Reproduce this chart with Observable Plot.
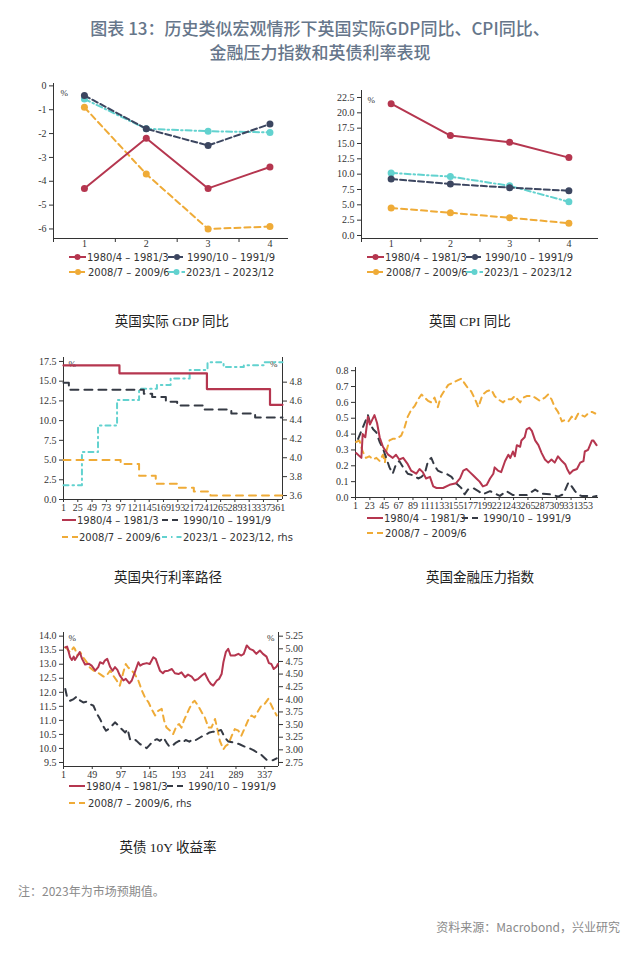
<!DOCTYPE html>
<html>
<head>
<meta charset="utf-8">
<script src="https://cdn.jsdelivr.net/npm/d3@7"></script>
<script src="https://cdn.jsdelivr.net/npm/@observablehq/plot@0.6"></script>
<style>
html,body{margin:0;padding:0;background:#fff;}
#root{position:relative;width:640px;height:962px;overflow:hidden;background:#fff;}
.title{position:absolute;left:0;top:16px;width:640px;text-align:center;font-family:"Noto Sans CJK SC",sans-serif;font-size:17px;font-weight:500;color:#66768a;line-height:24px;}
.legend{position:absolute;font-family:"DejaVu Sans",sans-serif;font-size:10px;color:#333;white-space:nowrap;}
.legend .item{position:absolute;display:flex;align-items:center;height:14px;}
.caption{position:absolute;width:240px;text-align:center;font-family:"Liberation Serif","Noto Sans CJK SC",serif;font-size:13.5px;color:#222;line-height:18px;}
.note{position:absolute;font-family:"Noto Sans CJK SC",sans-serif;font-size:12px;color:#8a8a8a;line-height:16px;white-space:nowrap;}
</style>
</head>
<body>
<div id="root"></div>
<script>
// ================= DATA =================
const seriesLabels = ["1980/4 – 1981/3", "1990/10 – 1991/9", "2008/7 – 2009/6", "2023/1 – 2023/12"];
const seriesColors = ["#b5364f", "#3c4660", "#efab37", "#62d2cf"];

// Panel 1: real GDP yoy
const quarters = [1, 2, 3, 4];
const quarterTickMarks = [0.5, 1.5, 2.5, 3.5];
const gdp1980 = [-4.3, -2.2, -4.3, -3.4];
const gdp1990 = [-0.4, -1.8, -2.5, -1.6];
const gdp2008 = [-0.9, -3.7, -6.0, -5.9];
const gdp2023 = [-0.55, -1.8, -1.9, -1.95];
const gdpTicks = [0, -1, -2, -3, -4, -5, -6];

// Panel 2: CPI yoy
const cpi1980 = [21.5, 16.3, 15.2, 12.7];
const cpi1990 = [9.2, 8.4, 7.8, 7.3];
const cpi2008 = [4.5, 3.7, 2.9, 2.0];
const cpi2023 = [10.2, 9.6, 8.1, 5.5];
const cpiTicks = [0, 2.5, 5, 7.5, 10, 12.5, 15, 17.5, 20, 22.5];

// Panel 3: Bank rate path (step)
const rateDays1980 = [1, 95, 242, 348, 369];
const rate1980 = [17, 16, 14, 12, 12];
const rateDays1990 = [1, 10, 136, 150, 173, 192, 236, 283, 323, 369];
const rate1990 = [14.8, 13.9, 13.4, 13.0, 12.4, 11.9, 11.4, 10.9, 10.4, 10.4];
const rateDays2008 = [1, 97, 128, 156, 192, 220, 248, 369];
const rate2008 = [5.0, 4.5, 3.0, 2.0, 1.5, 1.0, 0.5, 0.5];
const rateDays2023 = [1, 32, 59, 91, 128, 158, 181, 213, 243, 270, 304, 338, 369];
const rate2023 = [3.71, 4.06, 4.34, 4.61, 4.73, 4.77, 4.84, 4.93, 5.01, 4.96, 4.98, 5.01, 5.01];
const rateDayTicks = [1, 25, 49, 73, 97, 121, 145, 169, 193, 217, 241, 265, 289, 313, 337, 361];
const rateLeftTicks = [0, 2.5, 5, 7.5, 10, 12.5, 15, 17.5];
const rateRightTicks = [3.6, 3.8, 4.0, 4.2, 4.4, 4.6, 4.8];

// Panel 4: financial stress index
const fsiDays1980 = [2, 10, 12, 16, 20, 23, 30, 34, 38, 43, 51, 58, 63, 68, 74, 81, 86, 94, 99, 104, 109, 115, 120, 125, 135, 145, 155, 161, 166, 171, 176, 181, 186, 191, 196, 202, 207, 212, 214, 219, 224, 230, 235, 238, 242, 245, 248, 253, 255, 260, 263, 267, 271, 276, 281, 286, 291, 296, 301, 306, 311, 317, 322, 325, 329, 334, 340, 345, 350, 352, 357, 363, 365, 370];
const fsi1980 = [0.28, 0.25, 0.40, 0.38, 0.51, 0.46, 0.52, 0.47, 0.38, 0.32, 0.27, 0.25, 0.27, 0.24, 0.25, 0.21, 0.17, 0.15, 0.18, 0.16, 0.12, 0.13, 0.07, 0.06, 0.06, 0.08, 0.09, 0.12, 0.17, 0.18, 0.16, 0.14, 0.12, 0.10, 0.07, 0.08, 0.12, 0.15, 0.19, 0.17, 0.16, 0.23, 0.27, 0.25, 0.29, 0.26, 0.33, 0.32, 0.36, 0.38, 0.43, 0.44, 0.42, 0.36, 0.33, 0.28, 0.24, 0.22, 0.24, 0.22, 0.26, 0.23, 0.21, 0.18, 0.15, 0.17, 0.18, 0.22, 0.23, 0.29, 0.30, 0.36, 0.36, 0.33];
const fsiDays1990 = [5, 12, 20, 24, 28, 33, 38, 43, 48, 53, 58, 63, 68, 74, 81, 89, 97, 102, 107, 112, 117, 122, 127, 132, 140, 148, 155, 163, 168, 173, 181, 189, 196, 207, 222, 232, 242, 253, 263, 276, 286, 299, 311, 319, 327, 332, 337, 342, 347, 355, 363, 370];
const fsi1990 = [0.37, 0.44, 0.52, 0.46, 0.43, 0.41, 0.35, 0.31, 0.25, 0.19, 0.15, 0.21, 0.23, 0.19, 0.15, 0.14, 0.12, 0.13, 0.15, 0.23, 0.25, 0.20, 0.17, 0.16, 0.15, 0.13, 0.09, 0.06, 0.02, 0.05, 0.06, 0.04, 0.02, 0.04, 0.01, 0.04, 0.015, 0.015, 0.015, 0.05, 0.025, 0.02, 0.006, 0.02, 0.095, 0.07, 0.04, 0.017, 0.01, 0.01, 0.004, 0.01];
const fsiDays2008 = [2, 7, 12, 17, 22, 28, 33, 38, 43, 46, 48, 53, 58, 63, 71, 76, 81, 86, 92, 97, 102, 107, 112, 117, 122, 127, 132, 138, 143, 148, 153, 158, 163, 168, 173, 178, 184, 189, 194, 196, 202, 209, 214, 219, 227, 232, 240, 245, 253, 258, 263, 271, 276, 283, 291, 296, 301, 306, 311, 317, 322, 327, 332, 337, 342, 347, 352, 357, 363, 368];
const fsi2008 = [0.35, 0.36, 0.29, 0.25, 0.26, 0.24, 0.25, 0.23, 0.27, 0.22, 0.29, 0.36, 0.37, 0.37, 0.39, 0.44, 0.51, 0.55, 0.58, 0.62, 0.65, 0.63, 0.61, 0.60, 0.63, 0.57, 0.64, 0.68, 0.71, 0.72, 0.73, 0.74, 0.75, 0.72, 0.69, 0.67, 0.62, 0.57, 0.63, 0.65, 0.67, 0.68, 0.64, 0.62, 0.60, 0.62, 0.62, 0.64, 0.60, 0.63, 0.64, 0.64, 0.63, 0.61, 0.63, 0.65, 0.62, 0.57, 0.54, 0.48, 0.49, 0.48, 0.51, 0.49, 0.53, 0.52, 0.51, 0.53, 0.54, 0.53];
const fsiDayTicks = [1, 23, 45, 67, 89, 111, 133, 155, 177, 199, 221, 243, 265, 287, 309, 331, 353];
const fsiTicks = [0, 0.1, 0.2, 0.3, 0.4, 0.5, 0.6, 0.7, 0.8];

// Panel 5: 10Y gilt yield
const giltDays1980 = [4, 7, 9, 12, 15, 18, 20, 23, 28, 32, 37, 43, 48, 54, 59, 62, 67, 70, 74, 79, 83, 87, 91, 95, 101, 105, 111, 115, 120, 126, 129, 134, 140, 145, 151, 155, 159, 162, 167, 170, 176, 182, 187, 193, 198, 204, 209, 215, 220, 226, 232, 237, 243, 247, 251, 257, 261, 265, 268, 272, 276, 280, 287, 293, 298, 302, 307, 312, 318, 323, 329, 334, 340, 344, 348, 352, 357, 359];
const gilt1980 = [13.6, 13.63, 13.49, 13.25, 13.15, 13.27, 13.15, 13.25, 13.43, 13.19, 12.99, 13.02, 12.95, 12.77, 12.9, 13.07, 13.02, 13.13, 13.19, 12.9, 12.77, 12.9, 12.8, 12.6, 12.42, 12.48, 12.32, 12.42, 12.71, 13.07, 12.95, 13.01, 13.04, 13.01, 13.25, 13.19, 12.95, 12.77, 12.68, 12.75, 12.77, 12.83, 12.68, 12.65, 12.71, 12.54, 12.63, 12.56, 12.42, 12.48, 12.6, 12.68, 12.42, 12.3, 12.24, 12.42, 12.48, 12.65, 13.07, 13.43, 13.55, 13.31, 13.31, 13.37, 13.31, 13.37, 13.67, 13.55, 13.49, 13.37, 13.49, 13.37, 13.27, 13.04, 13.01, 12.83, 12.92, 13.01];
const giltDays1990 = [4, 7, 12, 18, 23, 29, 34, 40, 45, 51, 57, 62, 68, 72, 76, 82, 87, 93, 98, 104, 108, 112, 118, 123, 129, 134, 140, 145, 151, 157, 162, 168, 173, 178, 183, 189, 194, 200, 205, 211, 217, 222, 229, 234, 240, 245, 251, 257, 260, 264, 270, 276, 287, 295, 304, 312, 318, 324, 330, 336, 340, 345, 351, 357];
const gilt1990 = [12.12, 11.82, 11.7, 11.76, 11.85, 11.7, 11.64, 11.67, 11.58, 11.52, 11.23, 11.05, 10.77, 10.63, 10.69, 10.81, 10.93, 10.81, 10.69, 10.57, 10.69, 10.33, 10.36, 10.27, 10.15, 10.1, 10.01, 10.13, 10.27, 10.33, 10.27, 10.39, 10.21, 10.06, 10.1, 10.21, 10.27, 10.21, 10.3, 10.24, 10.33, 10.3, 10.39, 10.45, 10.51, 10.57, 10.6, 10.57, 10.63, 10.66, 10.4, 10.25, 10.2, 10.15, 10.06, 10.0, 9.94, 9.86, 9.8, 9.68, 9.6, 9.6, 9.58, 9.65];
const giltDays2008 = [4, 7, 12, 18, 20, 24, 29, 34, 40, 45, 51, 57, 62, 68, 73, 79, 84, 90, 95, 98, 101, 105, 109, 115, 120, 126, 132, 137, 143, 148, 154, 159, 165, 169, 173, 179, 184, 190, 194, 198, 202, 207, 212, 217, 220, 226, 232, 237, 243, 248, 254, 258, 262, 268, 272, 276, 282, 287, 293, 298, 304, 309, 315, 320, 326, 331, 337, 343, 347, 351, 357];
const gilt2008 = [5.03, 5.0, 4.93, 5.03, 5.0, 4.87, 4.93, 4.83, 4.73, 4.63, 4.57, 4.54, 4.5, 4.45, 4.47, 4.57, 4.47, 4.37, 4.27, 4.4, 4.54, 4.7, 4.63, 4.57, 4.5, 4.37, 4.17, 4.04, 3.94, 3.81, 3.68, 3.77, 3.81, 3.58, 3.44, 3.38, 3.31, 3.48, 3.51, 3.44, 3.58, 3.71, 3.84, 3.94, 3.97, 3.87, 3.74, 3.64, 3.44, 3.44, 3.61, 3.41, 3.18, 3.01, 3.08, 3.11, 3.28, 3.41, 3.38, 3.28, 3.44, 3.58, 3.68, 3.64, 3.77, 3.87, 3.91, 4.01, 3.91, 3.81, 3.68];
const giltDayTicks = [1, 49, 97, 145, 193, 241, 289, 337];
const giltLeftTicks = [9.5, 10.0, 10.5, 11.0, 11.5, 12.0, 12.5, 13.0, 13.5, 14.0];
const giltRightTicks = [2.75, 3.0, 3.25, 3.5, 3.75, 4.0, 4.25, 4.5, 4.75, 5.0, 5.25];

// ================= HELPERS =================
const root = document.getElementById("root");
function place(el, left, top) {
  el.style.position = "absolute";
  el.style.left = left + "px";
  el.style.top = top + "px";
  root.appendChild(el);
  return el;
}
const baseStyle = {fontFamily: '"Liberation Serif", serif', fontSize: "10px", color: "#333", background: "transparent", overflow: "visible"};
const rows = (xs, vs) => xs.map((x, i) => ({x, v: vs[i]}));

function legend(left, top, rowH, colW, items, withDot) {
  const box = document.createElement("div");
  box.className = "legend";
  items.forEach((row, ri) => row.forEach((it, ci) => {
    const d = document.createElement("div");
    d.className = "item";
    d.style.left = (ci * colW) + "px";
    d.style.top = (ri * rowH) + "px";
    const sw = it.sw || 17;
    d.innerHTML = `<svg width="${sw}" height="10" style="overflow:visible"><line x1="0" y1="5" x2="${sw}" y2="5" stroke="${it.color}" stroke-width="2" stroke-dasharray="${it.dash || ""}"/>` +
      (withDot ? `<circle cx="${sw / 2}" cy="5" r="3" fill="${it.color}"/>` : "") +
      `</svg><span style="margin-left:1px">${it.label}</span>`;
    box.appendChild(d);
  }));
  place(box, left, top);
}
function caption(text, cx, cy) {
  const d = document.createElement("div");
  d.className = "caption";
  d.textContent = text;
  place(d, cx - 120, cy - 9);
}

const dashNavy = "6,3";
const dashOrange = "6,4";
const dashCyan = "6,3,1.5,3";

// ================= TITLE =================
const t = document.createElement("div");
t.className = "title";
t.innerHTML = "图表 13：历史类似宏观情形下英国实际GDP同比、CPI同比、<br>金融压力指数和英债利率表现";
root.appendChild(t);

// ================= PANEL 1 & 2 =================
function quarterPanel(series, yDomain, yTicks, xDomain, fmt, opts) {
  const [s1980, s1990, s2008, s2023] = series;
  const styles = [
    {data: s1980, color: seriesColors[0], dash: null},
    {data: s1990, color: seriesColors[1], dash: dashNavy},
    {data: s2008, color: seriesColors[2], dash: dashOrange},
    {data: s2023, color: seriesColors[3], dash: dashCyan}
  ];
  const marks = [
    Plot.ruleX([xDomain[0]], {stroke: "#333", strokeWidth: 1}),
    Plot.ruleY([yDomain[0]], {stroke: "#333", strokeWidth: 1}),
    Plot.axisY(yTicks, {tickSize: 4, tickPadding: 3, tickFormat: fmt, label: null}),
    Plot.axisX(quarterTickMarks, {tickSize: 4, tickFormat: () => "", label: null}),
    Plot.axisX(quarters, {tickSize: 0, tickPadding: 1, label: null}),
    Plot.text(["%"], {frameAnchor: "top-left", dx: opts.pctDx, dy: opts.pctDy, fontSize: 9, fill: "#333"})
  ];
  [styles[3], styles[2], styles[1], styles[0]].forEach(s => {
    const d = rows(quarters, s.data);
    marks.push(Plot.line(d, {x: "x", y: "v", stroke: s.color, strokeWidth: 2, strokeDasharray: s.dash}));
    marks.push(Plot.dot(d, {x: "x", y: "v", fill: s.color, r: 3.5}));
  });
  return Plot.plot({
    width: opts.width, height: 178,
    marginLeft: opts.ml, marginRight: opts.mr, marginTop: opts.mt, marginBottom: 10,
    x: {domain: xDomain, label: null}, y: {domain: yDomain, label: null},
    style: baseStyle,
    marks
  });
}

const p1 = quarterPanel([gdp1980, gdp1990, gdp2008, gdp2023], [-6.4, 0.1], gdpTicks, [0.5, 4.3],
  d => String(d), {width: 310, ml: 53, mr: 22, mt: 13, pctDx: 7, pctDy: 6});
place(p1, 0, 70);
const p2 = quarterPanel([cpi1980, cpi1990, cpi2008, cpi2023], [-0.49, 23.64], cpiTicks, [0.5, 4.5],
  d => d.toFixed(1), {width: 300, ml: 41, mr: 22, mt: 20, pctDx: 6, pctDy: 6});
place(p2, 320, 70);

const qItems = [
  [{label: seriesLabels[0], color: seriesColors[0]}, {label: seriesLabels[1], color: seriesColors[1], dash: dashNavy, sw: 18}],
  [{label: seriesLabels[2], color: seriesColors[2], dash: dashOrange, sw: 18}, {label: seriesLabels[3], color: seriesColors[3], dash: dashCyan, sw: 17}]
];
legend(69, 250, 15, 99, qItems, true);
legend(367, 250, 15, 99, qItems, true);
caption("英国实际 GDP 同比", 172, 322);
caption("英国 CPI 同比", 470, 322);

// ================= PANEL 3 =================
{
  const yDom = [0, 18];
  const rDom = [3.558, 5.061];
  const r2l = d3.scaleLinear(rDom, yDom);
  const xDom = [1, 369];
  const p3 = Plot.plot({
    width: 310, height: 172, marginLeft: 63, marginRight: 28, marginTop: 12, marginBottom: 18,
    x: {domain: xDom, label: null}, y: {domain: yDom, label: null},
    style: baseStyle,
    marks: [
      Plot.ruleX([xDom[0]], {stroke: "#333"}),
      Plot.ruleX([xDom[1]], {stroke: "#333"}),
      Plot.ruleY([yDom[0]], {stroke: "#333"}),
      Plot.axisY(rateLeftTicks, {tickSize: 4, tickPadding: 3, tickFormat: d => d.toFixed(1), label: null}),
      Plot.axisY(rateRightTicks.map(r2l), {anchor: "right", tickSize: 4, tickPadding: 3, tickFormat: d => r2l.invert(d).toFixed(1), label: null}),
      Plot.axisX(rateDayTicks, {tickSize: 3, tickPadding: 1, label: null}),
      Plot.text(["%"], {frameAnchor: "top-left", dx: 5, dy: 3, fontSize: 9, fill: "#333"}),
      Plot.text(["%"], {frameAnchor: "top-right", dx: -5, dy: 3, fontSize: 9, fill: "#333"}),
      Plot.line(rows(rateDays2023, rate2023.map(r2l)), {x: "x", y: "v", curve: "step-after", stroke: seriesColors[3], strokeWidth: 2, strokeDasharray: "5,4,1.5,4"}),
      Plot.line(rows(rateDays2008, rate2008), {x: "x", y: "v", curve: "step-after", stroke: seriesColors[2], strokeWidth: 2, strokeDasharray: "7,6"}),
      Plot.line(rows(rateDays1990, rate1990), {x: "x", y: "v", curve: "step-after", stroke: "#353a44", strokeWidth: 2, strokeDasharray: "8,6"}),
      Plot.line(rows(rateDays1980, rate1980), {x: "x", y: "v", curve: "step-after", stroke: seriesColors[0], strokeWidth: 2.2})
    ]
  });
  place(p3, 0, 345);
  legend(62, 513, 17, 100, [
    [{label: seriesLabels[0], color: seriesColors[0], sw: 14}, {label: seriesLabels[1], color: "#353a44", dash: "6,4", sw: 20}],
    [{label: seriesLabels[2], color: seriesColors[2], dash: "6,4", sw: 16}, {label: seriesLabels[3] + ", rhs", color: seriesColors[3], dash: "5,4,1.5,4", sw: 20}]
  ], false);
  caption("英国央行利率路径", 168, 578);
}

// ================= PANEL 4 =================
{
  const yDom = [0, 0.82];
  const xDom = [1, 373];
  const p4 = Plot.plot({
    width: 300, height: 160, marginLeft: 35, marginRight: 22, marginTop: 12, marginBottom: 18,
    x: {domain: xDom, label: null}, y: {domain: yDom, label: null},
    style: baseStyle,
    marks: [
      Plot.ruleX([xDom[0]], {stroke: "#333"}),
      Plot.ruleY([yDom[0]], {stroke: "#333"}),
      Plot.axisY(fsiTicks, {tickSize: 4, tickPadding: 3, tickFormat: d => d.toFixed(1), label: null}),
      Plot.axisX(fsiDayTicks, {tickSize: 3, tickPadding: 1, label: null}),
      Plot.line(rows(fsiDays2008, fsi2008), {x: "x", y: "v", stroke: seriesColors[2], strokeWidth: 2, strokeDasharray: "6,5"}),
      Plot.line(rows(fsiDays1990, fsi1990), {x: "x", y: "v", stroke: "#353a44", strokeWidth: 2, strokeDasharray: "7,6"}),
      Plot.line(rows(fsiDays1980, fsi1980), {x: "x", y: "v", stroke: seriesColors[0], strokeWidth: 2})
    ]
  });
  place(p4, 320, 355);
  legend(367, 511, 15, 95, [
    [{label: seriesLabels[0], color: seriesColors[0], sw: 16}, {label: seriesLabels[1], color: "#353a44", dash: "6,4", sw: 20}],
    [{label: seriesLabels[2], color: seriesColors[2], dash: "6,4", sw: 17}]
  ], false);
  caption("英国金融压力指数", 480, 578);
}

// ================= PANEL 5 =================
{
  const yDom = [9.357, 14.13];
  const rDom = [2.67, 5.323];
  const r2l = d3.scaleLinear(rDom, yDom);
  const xDom = [1, 360];
  const p5 = Plot.plot({
    width: 310, height: 164, marginLeft: 63, marginRight: 32, marginTop: 12, marginBottom: 18,
    x: {domain: xDom, label: null}, y: {domain: yDom, label: null},
    style: baseStyle,
    marks: [
      Plot.ruleX([xDom[0]], {stroke: "#333"}),
      Plot.ruleX([xDom[1]], {stroke: "#333"}),
      Plot.ruleY([yDom[0]], {stroke: "#333"}),
      Plot.axisY(giltLeftTicks, {tickSize: 4, tickPadding: 3, tickFormat: d => d.toFixed(1), label: null}),
      Plot.axisY(giltRightTicks.map(r2l), {anchor: "right", tickSize: 4, tickPadding: 3, tickFormat: d => r2l.invert(d).toFixed(2), label: null}),
      Plot.axisX(giltDayTicks, {tickSize: 3, tickPadding: 1, label: null}),
      Plot.text(["%"], {frameAnchor: "top-left", dx: 5, dy: 2, fontSize: 9, fill: "#333"}),
      Plot.text(["%"], {frameAnchor: "top-right", dx: -4, dy: 2, fontSize: 9, fill: "#333"}),
      Plot.line(rows(giltDays2008, gilt2008.map(r2l)), {x: "x", y: "v", stroke: seriesColors[2], strokeWidth: 2, strokeDasharray: "6,5"}),
      Plot.line(rows(giltDays1990, gilt1990), {x: "x", y: "v", stroke: "#353a44", strokeWidth: 2, strokeDasharray: "7,6"}),
      Plot.line(rows(giltDays1980, gilt1980), {x: "x", y: "v", stroke: seriesColors[0], strokeWidth: 2})
    ]
  });
  place(p5, 0, 620);
  legend(69, 779, 17, 98, [
    [{label: seriesLabels[0], color: seriesColors[0], sw: 16}, {label: seriesLabels[1], color: "#353a44", dash: "6,4", sw: 20}],
    [{label: seriesLabels[2] + ", rhs", color: seriesColors[2], dash: "6,4", sw: 18}]
  ], false);
  caption("英债 10Y 收益率", 168, 848);
}

// ================= FOOTER =================
const note = document.createElement("div");
note.className = "note";
note.textContent = "注：2023年为市场预期值。";
place(note, 18, 883);
const src = document.createElement("div");
src.className = "note";
src.textContent = "资料来源：Macrobond，兴业研究";
src.style.right = "20px";
src.style.position = "absolute";
src.style.top = "919px";
root.appendChild(src);
</script>
</body>
</html>
